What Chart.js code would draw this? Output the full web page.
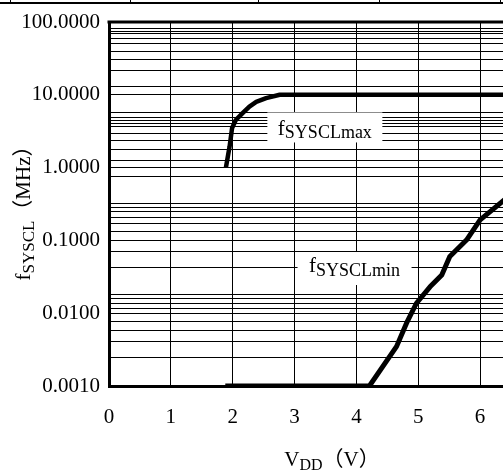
<!DOCTYPE html>
<html><head><meta charset="utf-8">
<script src="https://cdn.jsdelivr.net/npm/chart.js@4.4.1/dist/chart.umd.min.js"></script>
<style>
html,body{margin:0;padding:0;background:#fff;overflow:hidden;}
#wrap{position:relative;width:503px;height:471px;}
canvas{position:absolute;left:0;top:0;}
.hl{position:absolute;left:0;top:2px;width:503px;height:2px;background:#000;}
.vl{position:absolute;top:0;width:1px;height:4px;background:#000;}
</style></head><body>
<div id="wrap"><canvas id="c" width="503" height="471"></canvas>
<div class="hl"></div>
<div class="vl" style="left:10px"></div>
<div class="vl" style="left:130px"></div>
<div class="vl" style="left:258px"></div>
<div class="vl" style="left:379px"></div>
<div class="vl" style="left:500px"></div>
</div>
<script>
// ---- data ----
const vddMax  = [1.89, 1.95, 1.99, 2.05, 2.16, 2.27, 2.38, 2.54, 2.76, 6.4];
const fSysclMax = [1.0, 1.95, 3.5, 4.5, 5.6, 6.9, 8.0, 9.0, 10, 10];
const vddMin  = [1.88, 4.21, 4.65, 4.81, 4.97, 5.19, 5.38, 5.51, 5.78, 6.0, 6.4];
const fSysclMin = [0.001, 0.001, 0.0035, 0.0073, 0.0137, 0.023, 0.0335, 0.06, 0.101, 0.191, 0.365];

const xTicks = [0, 1, 2, 3, 4, 5, 6];
const yMajor = [0.001, 0.01, 0.1, 1, 10, 100];
const yTickLabels = ['0.0010', '0.0100', '0.1000', '1.0000', '10.0000', '100.0000'];
// irregular minor grid lines as drawn in the reference
const yMinorGrid = [
  0.00243, 0.00404, 0.00581, 0.00774,
  0.0116, 0.0135, 0.0161, 0.018, 0.0425, 0.0706,
  0.133, 0.168, 0.204, 0.251, 0.284, 0.319, 0.75,
  1.26, 1.76, 2.34, 2.91, 3.63, 4.06, 4.42, 4.81, 5.63,
  13.1, 21.3, 30.6, 39, 50, 60.2, 68.8, 73.9, 82.2
];
const seriesNames = ['fSYSCLmax', 'fSYSCLmin'];

const SERIF = '"Liberation Serif", "Times New Roman", serif';
const CJKSERIF = '"Liberation Serif", "Noto Sans CJK SC", serif';

function drawRich(ctx, parts, x, y, align) {
  let total = 0;
  parts.forEach(p => { ctx.font = p.size + 'px ' + (p.fam || SERIF); p.w = ctx.measureText(p.t).width; total += p.w; });
  let cx = align === 'center' ? x - total / 2 : x;
  parts.forEach(p => {
    ctx.font = p.size + 'px ' + (p.fam || SERIF);
    ctx.textAlign = 'left'; ctx.textBaseline = 'alphabetic';
    ctx.fillText(p.t, cx, y + (p.dy || 0));
    cx += p.w;
  });
}

const labelBoxes = [
  { name: 0, x: 3.49, y: 3.56, w: 115, h: 30, fdy: 7.5, sdy: 10.5 },
  { name: 1, x: 3.97, y: 0.0411, w: 114, h: 33, fdy: 3.5, sdy: 7.5 }
];

const deco = {
  id: 'deco',
  beforeDatasetsDraw(chart) {
    const { ctx, chartArea: a, scales: { x, y } } = chart;
    ctx.save();
    ctx.strokeStyle = '#000'; ctx.lineWidth = 3;
    ctx.beginPath(); ctx.moveTo(a.left - 1.5, a.top); ctx.lineTo(a.right, a.top); ctx.stroke();
    ctx.fillStyle = '#000';
    labelBoxes.forEach(l => {
      const cx = x.getPixelForValue(l.x), cy = y.getPixelForValue(l.y);
      ctx.fillStyle = '#fff';
      ctx.fillRect(cx - l.w / 2, cy - l.h / 2, l.w, l.h);
      ctx.fillStyle = '#000';
      const nm = seriesNames[l.name];
      drawRich(ctx, [
        { t: nm.slice(0, 1), size: 21, dy: l.fdy },
        { t: nm.slice(1), size: 18, dy: l.sdy }
      ], cx, cy, 'center');
    });
    ctx.restore();
  },
  afterDraw(chart) {
    const ctx = chart.ctx;
    ctx.save();
    ctx.fillStyle = '#000';
    // x title
    drawRich(ctx, [
      { t: 'V', size: 21 },
      { t: 'DD', size: 16, dy: 4 },
      { t: '（V）', size: 21, fam: CJKSERIF }
    ], 332, 466, 'center');
    // y title
    ctx.translate(30, 208);
    ctx.rotate(-Math.PI / 2);
    drawRich(ctx, [
      { t: 'f', size: 21 },
      { t: 'SYSCL', size: 17, dy: 3.5 },
      { t: '（MHz）', size: 21, fam: CJKSERIF }
    ], 0, 0, 'center');
    ctx.restore();
  }
};

const ds = (xs, ys) => xs.map((v, i) => ({ x: v, y: ys[i] }));

new Chart(document.getElementById('c'), {
  type: 'line',
  data: {
    datasets: [
      { label: seriesNames[0], data: ds(vddMax, fSysclMax), borderColor: '#000', borderWidth: 4.5, pointRadius: 0, tension: 0, fill: false, borderJoinStyle: 'round', borderCapStyle: 'butt' },
      { label: seriesNames[1], data: ds(vddMin, fSysclMin), borderColor: '#000', borderWidth: 5, pointRadius: 0, tension: 0, fill: false, borderJoinStyle: 'round', borderCapStyle: 'butt' }
    ]
  },
  options: {
    responsive: false,
    devicePixelRatio: 1,
    animation: false,
    layout: { padding: { top: 22, left: 0, right: 0, bottom: 0 } },
    plugins: { legend: { display: false }, tooltip: { enabled: false } },
    scales: {
      x: {
        type: 'linear', min: 0, max: 6.37,
        afterBuildTicks: s => { s.ticks = xTicks.map(v => ({ value: v })); },
        afterFit: s => { s.height = 85; s.paddingLeft = 0; s.paddingRight = 0; },
        ticks: { color: '#000', font: { family: SERIF, size: 21 }, padding: 19, autoSkip: false, maxRotation: 0 },
        grid: { color: '#000', lineWidth: 1, drawTicks: false },
        border: { display: true, color: '#000', width: 3 }
      },
      y: {
        type: 'logarithmic', min: 0.001, max: 100,
        afterBuildTicks: s => {
          s.ticks = yMajor.concat(yMinorGrid).sort((a, b) => a - b).map(v => ({ value: v }));
        },
        afterFit: s => { s.width = 109; s.paddingTop = 0; s.paddingBottom = 0; },
        ticks: {
          color: '#000', font: { family: SERIF, size: 21 }, padding: 9, autoSkip: false,
          callback: v => {
            const i = yMajor.findIndex(m => Math.abs(m - v) / m < 1e-6);
            return i >= 0 ? yTickLabels[i] : '';
          }
        },
        grid: { color: '#000', lineWidth: 1, drawTicks: false },
        border: { display: true, color: '#000', width: 3 }
      }
    }
  },
  plugins: [deco]
});
</script>
</body></html>
